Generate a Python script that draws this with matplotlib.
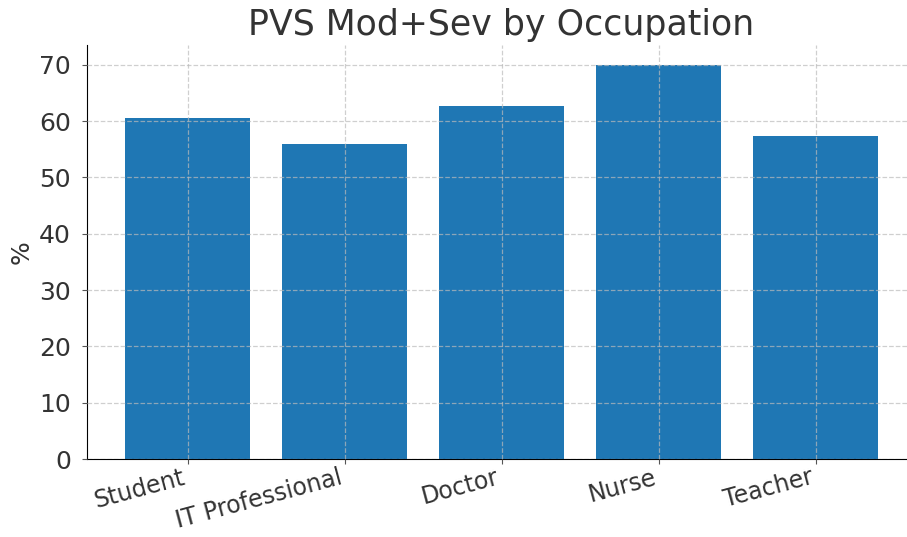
import matplotlib

matplotlib.use("Agg")
import matplotlib.pyplot as plt

occupations = ["Student", "IT Professional", "Doctor", "Nurse", "Teacher"]
pvs_mod_sev = [60.5, 56.0, 62.7, 70.0, 57.3]

C_BAR = "#1f77b4"
C_TXT = "#333333"

fig, ax = plt.subplots(figsize=(9.07, 5.37), dpi=100)
ax.bar(occupations, pvs_mod_sev, color=C_BAR, width=0.8, zorder=1)
ax.set_axisbelow(False)
ax.grid(True, ls="--", color="#bbbbbb", lw=0.9, alpha=0.7, zorder=3)
ax.set_title("PVS Mod+Sev by Occupation", fontsize=25, color=C_TXT, pad=7)
ax.set_ylabel("%", fontsize=18, color=C_TXT, labelpad=4)
ax.tick_params(axis="y", labelsize=18, labelcolor=C_TXT, color="#555555",
               pad=8)
ax.tick_params(axis="x", labelsize=17, labelcolor=C_TXT, color="#555555",
               pad=1)
plt.setp(ax.get_xticklabels(), rotation=15, ha="right")
for s in ("top", "right"):
    ax.spines[s].set_visible(False)
fig.subplots_adjust(left=0.096, right=1.01, bottom=0.145, top=0.916)
fig.savefig("out.png")
